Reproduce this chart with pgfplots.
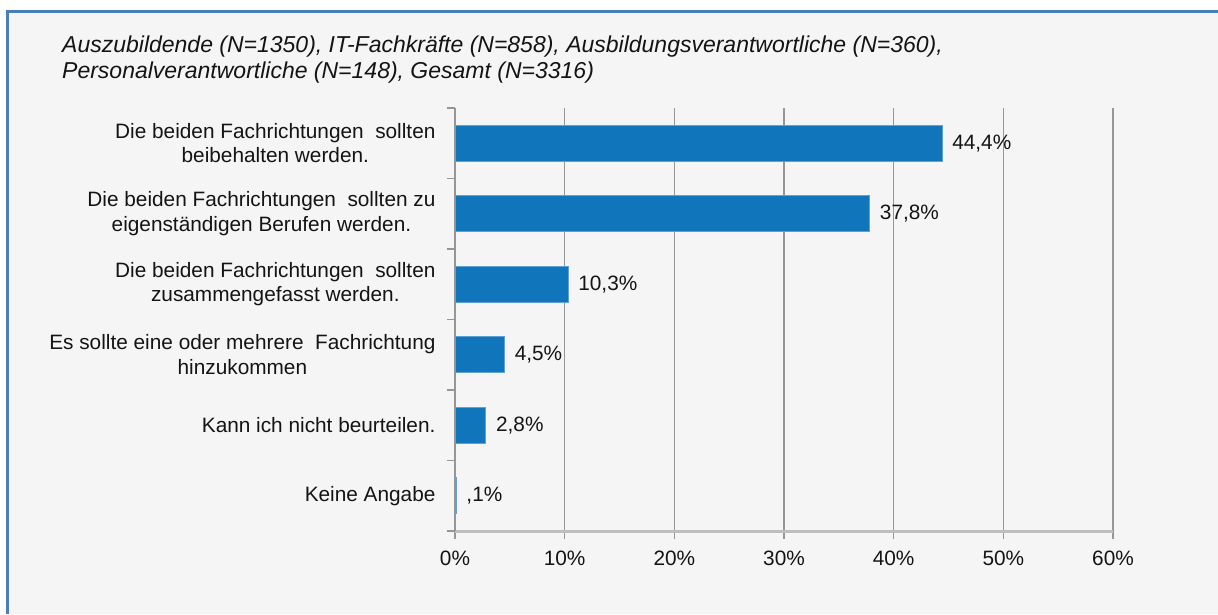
\documentclass[border=0pt]{standalone}
\usepackage{fontspec}
\setmainfont{Liberation Sans}
\usepackage{pgfplots}
\pgfplotsset{compat=1.18}
\definecolor{barblue}{RGB}{16,117,186}
\definecolor{baredge}{RGB}{96,160,215}
\definecolor{bgray}{RGB}{245,245,245}
\definecolor{frameblue}{RGB}{74,126,187}
\definecolor{gridgray}{RGB}{150,150,150}
\definecolor{axisgray}{RGB}{190,190,190}
\definecolor{txt}{RGB}{20,20,20}
\begin{document}
\begin{tikzpicture}[x=1pt,y=1pt]
\useasboundingbox (0,0) rectangle (1218,614);
\fill[white] (0,0) rectangle (1218,614);
\fill[bgray] (7,0) rectangle (1218,604);
\draw[frameblue, line width=3pt] (7.5,0) -- (7.5,602.5) -- (1218,602.5);
\node[anchor=north west, align=left, text=txt, font=\itshape\fontsize{23}{25.5}\selectfont, inner sep=0] at (62,578) {Auszubildende (N=1350), IT-Fachkräfte (N=858), Ausbildungsverantwortliche (N=360),\\Personalverantwortliche (N=148), Gesamt (N=3316)};
\begin{axis}[
  at={(455pt,83pt)}, anchor=south west,
  scale only axis, width=658pt, height=423pt,
  xmin=0, xmax=60, ymin=-0.5, ymax=5.5,
  enlargelimits=false,
  separate axis lines,
  axis x line*=bottom, axis y line*=left,
  x axis line style={axisgray, line width=3pt, -},
  y axis line style={gridgray, line width=1.2pt, -},
  xtick={0,10,...,60},
  xticklabels={0\%,10\%,20\%,30\%,40\%,50\%,60\%},
  xmajorgrids,
  grid style={gridgray, line width=1.2pt},
  tick align=outside, major tick length=8pt,
  xtick style={gridgray, line width=1.2pt},
  ytick={0,...,5},
  ytick style={draw=none},
  yticklabels={
    Keine Angabe,
    Kann ich nicht beurteilen.,
    {Es sollte eine oder mehrere\ \ Fachrichtung\\hinzukommen},
    {Die beiden Fachrichtungen\ \ sollten\\zusammengefasst werden.},
    {Die beiden Fachrichtungen\ \ sollten zu\\eigenständigen Berufen werden.},
    {Die beiden Fachrichtungen\ \ sollten\\beibehalten werden.}},
  extra y ticks={-0.5,0.5,1.5,2.5,3.5,4.5,5.5},
  extra y tick labels={},
  extra y tick style={ytick style={draw=gridgray, line width=1.2pt}, grid=none},
  tick label style={text=txt, font=\fontsize{20.8}{24.5}\selectfont},
  yticklabel style={align=center, anchor=east, xshift=-8pt},
  xticklabel style={anchor=north, yshift=-8pt},
  xbar, bar width=36pt,
  nodes near coords,
  point meta=explicit symbolic,
  nodes near coords style={anchor=west, inner sep=0pt, xshift=10pt, text=txt, font=\fontsize{20.8}{24}\selectfont},
]
\addplot[fill=barblue, draw=baredge, line width=0.8pt] coordinates {
  (0.1,0) [{,1\%}]
  (2.8,1) [{2,8\%}]
  (4.5,2) [{4,5\%}]
  (10.3,3) [{10,3\%}]
  (37.8,4) [{37,8\%}]
  (44.4,5) [{44,4\%}]
};
\end{axis}
\end{tikzpicture}
\end{document}
